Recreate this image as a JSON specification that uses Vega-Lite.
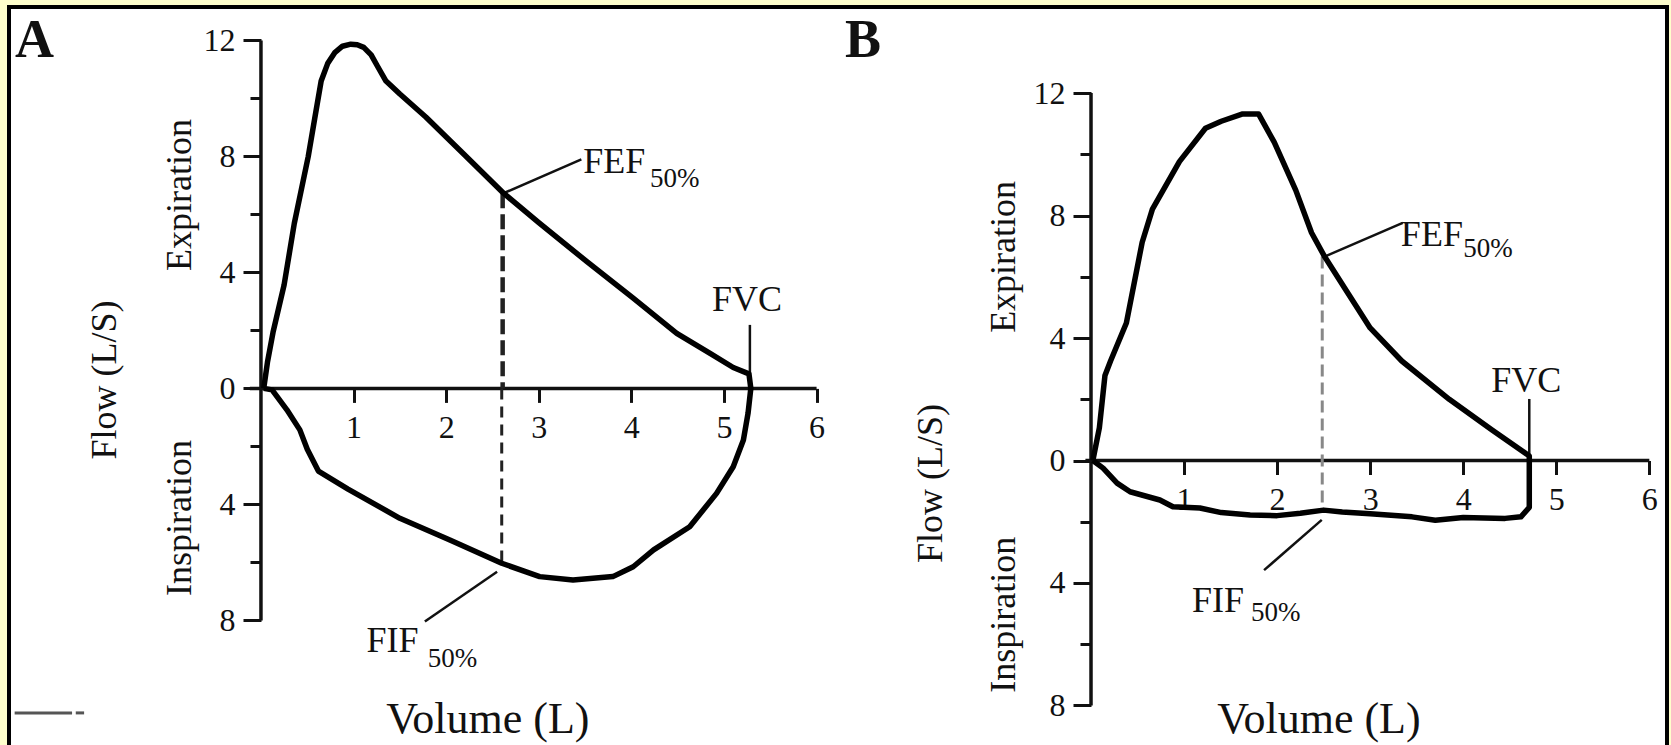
{
  "$schema": "https://vega.github.io/schema/vega-lite/v6.json",
  "width": 1671,
  "height": 745,
  "autosize": {"type": "fit", "contains": "padding"},
  "padding": {"left": 9, "top": 7, "right": 4, "bottom": -3},
  "background": "#FFFFCC",
  "config": {
    "view": {"stroke": "#000000", "strokeWidth": 4, "fill": "#ffffff"},
    "axis": {"labelFont": "Liberation Serif", "labelColor": "#111111", "tickColor": "#111111", "grid": false, "domain": false, "title": null}
  },
  "datasets": {
    "loopA": [
      {"volume": 0.03, "flow": 0}, {"volume": 0.07, "flow": 0.9}, {"volume": 0.13, "flow": 1.93}, {"volume": 0.25, "flow": 3.57},
      {"volume": 0.36, "flow": 5.69}, {"volume": 0.51, "flow": 7.99}, {"volume": 0.58, "flow": 9.3}, {"volume": 0.65, "flow": 10.6},
      {"volume": 0.72, "flow": 11.2}, {"volume": 0.8, "flow": 11.59}, {"volume": 0.88, "flow": 11.8}, {"volume": 0.97, "flow": 11.87},
      {"volume": 1.04, "flow": 11.85}, {"volume": 1.11, "flow": 11.76}, {"volume": 1.19, "flow": 11.5}, {"volume": 1.26, "flow": 11.1},
      {"volume": 1.35, "flow": 10.6}, {"volume": 1.5, "flow": 10.15}, {"volume": 1.78, "flow": 9.36}, {"volume": 2.2, "flow": 8.05},
      {"volume": 2.62, "flow": 6.73}, {"volume": 3.0, "flow": 5.72}, {"volume": 3.52, "flow": 4.37}, {"volume": 4.02, "flow": 3.11},
      {"volume": 4.49, "flow": 1.9}, {"volume": 4.85, "flow": 1.21}, {"volume": 5.1, "flow": 0.72}, {"volume": 5.27, "flow": 0.5},
      {"volume": 5.29, "flow": 0}, {"volume": 5.26, "flow": -0.86}, {"volume": 5.21, "flow": -1.78}, {"volume": 5.1, "flow": -2.7},
      {"volume": 4.92, "flow": -3.62}, {"volume": 4.63, "flow": -4.77}, {"volume": 4.24, "flow": -5.57}, {"volume": 4.02, "flow": -6.15},
      {"volume": 3.8, "flow": -6.49}, {"volume": 3.37, "flow": -6.61}, {"volume": 3.01, "flow": -6.49}, {"volume": 2.6, "flow": -6.03},
      {"volume": 2.04, "flow": -5.23}, {"volume": 1.5, "flow": -4.48}, {"volume": 0.94, "flow": -3.47}, {"volume": 0.62, "flow": -2.85},
      {"volume": 0.5, "flow": -2.1}, {"volume": 0.42, "flow": -1.43}, {"volume": 0.28, "flow": -0.74}, {"volume": 0.12, "flow": -0.05},
      {"volume": 0.03, "flow": 0}
    ],
    "loopB": [
      {"volume": 0.02, "flow": 0}, {"volume": 0.09, "flow": 1.07}, {"volume": 0.15, "flow": 2.78}, {"volume": 0.21, "flow": 3.25},
      {"volume": 0.38, "flow": 4.49}, {"volume": 0.55, "flow": 7.13}, {"volume": 0.66, "flow": 8.21}, {"volume": 0.95, "flow": 9.76},
      {"volume": 1.23, "flow": 10.85}, {"volume": 1.4, "flow": 11.08}, {"volume": 1.63, "flow": 11.32}, {"volume": 1.8, "flow": 11.32},
      {"volume": 1.97, "flow": 10.39}, {"volume": 2.2, "flow": 8.83}, {"volume": 2.37, "flow": 7.44}, {"volume": 2.51, "flow": 6.66},
      {"volume": 2.77, "flow": 5.42}, {"volume": 3.0, "flow": 4.33}, {"volume": 3.34, "flow": 3.25}, {"volume": 3.85, "flow": 2.0},
      {"volume": 4.31, "flow": 1.0}, {"volume": 4.71, "flow": 0.15}, {"volume": 4.71, "flow": 0}, {"volume": 4.71, "flow": -1.53},
      {"volume": 4.62, "flow": -1.84}, {"volume": 4.45, "flow": -1.89}, {"volume": 4.0, "flow": -1.86}, {"volume": 3.7, "flow": -1.95},
      {"volume": 3.45, "flow": -1.84}, {"volume": 3.0, "flow": -1.74}, {"volume": 2.7, "flow": -1.68}, {"volume": 2.5, "flow": -1.62},
      {"volume": 2.25, "flow": -1.72}, {"volume": 2.0, "flow": -1.8}, {"volume": 1.71, "flow": -1.78}, {"volume": 1.4, "flow": -1.7},
      {"volume": 1.17, "flow": -1.55}, {"volume": 0.88, "flow": -1.51}, {"volume": 0.74, "flow": -1.29}, {"volume": 0.42, "flow": -1.02},
      {"volume": 0.28, "flow": -0.74}, {"volume": 0.13, "flow": -0.25}, {"volume": 0.02, "flow": 0}
    ],
    "axesA": [
      {"volume": 0, "flow": -8, "volume2": 0, "flow2": 12},
      {"volume": -0.12, "flow": 0, "volume2": 6, "flow2": 0}
    ],
    "axesB": [
      {"volume": 0, "flow": -8, "volume2": 0, "flow2": 12},
      {"volume": -0.06, "flow": 0, "volume2": 6, "flow2": 0}
    ],
    "leadersA": [
      {"volume": 2.62, "flow": 6.73, "volume2": 3.46, "flow2": 7.9},
      {"volume": 2.55, "flow": -6.32, "volume2": 1.77, "flow2": -8.04},
      {"volume": 5.28, "flow": 0.5, "volume2": 5.28, "flow2": 2.19}
    ],
    "leadersB": [
      {"volume": 2.51, "flow": 6.66, "volume2": 3.35, "flow2": 7.76},
      {"volume": 2.48, "flow": -1.94, "volume2": 1.86, "flow2": -3.58},
      {"volume": 4.71, "flow": 0.15, "volume2": 4.71, "flow2": 2.01}
    ],
    "strayA": [
      {"volume": -2.66, "flow": -11.19, "volume2": -2.04, "flow2": -11.19},
      {"volume": -2.0, "flow": -11.19, "volume2": -1.91, "flow2": -11.19}
    ],
    "dashTopA": [{"volume": 2.61, "flow": 6.73, "flow2": 0}],
    "dashBottomA": [{"volume": 2.6, "flow": 0, "flow2": -6.03}],
    "dashB": [{"volume": 2.485, "flow": 6.66, "flow2": -1.6}],
    "textA": [
      {"kind": "panel", "label": "A", "volume": -2.657, "flow": 11.43},
      {"kind": "label", "label": "FEF", "volume": 3.48, "flow": 7.43},
      {"kind": "sub", "label": "50%", "volume": 4.2, "flow": 6.95},
      {"kind": "label", "label": "FIF", "volume": 1.14, "flow": -9.08},
      {"kind": "sub", "label": "50%", "volume": 1.8, "flow": -9.6},
      {"kind": "label", "label": "FVC", "volume": 4.87, "flow": 2.67},
      {"kind": "vtitle", "label": "Flow (L/S)", "volume": -1.685, "flow": 0.29},
      {"kind": "vtitle", "label": "Expiration", "volume": -0.875, "flow": 6.67},
      {"kind": "vtitle", "label": "Inspiration", "volume": -0.875, "flow": -4.47},
      {"kind": "htitle", "label": "Volume (L)", "volume": 2.45, "flow": -11.88}
    ],
    "textB": [
      {"kind": "panel", "label": "B", "volume": -2.643, "flow": 13.18},
      {"kind": "label", "label": "FEF", "volume": 3.33, "flow": 7.0},
      {"kind": "sub", "label": "50%", "volume": 4.0, "flow": 6.65},
      {"kind": "label", "label": "FIF", "volume": 1.085, "flow": -4.95},
      {"kind": "sub", "label": "50%", "volume": 1.72, "flow": -5.24},
      {"kind": "label", "label": "FVC", "volume": 4.3, "flow": 2.24},
      {"kind": "vtitle", "label": "Flow (L/S)", "volume": -1.72, "flow": -0.75},
      {"kind": "vtitle", "label": "Expiration", "volume": -0.94, "flow": 6.65},
      {"kind": "vtitle", "label": "Inspiration", "volume": -0.94, "flow": -5.04},
      {"kind": "htitle", "label": "Volume (L)", "volume": 2.45, "flow": -8.9}
    ]
  },
  "resolve": {"scale": {"x": "independent", "y": "independent"}, "axis": {"x": "independent", "y": "independent"}},
  "layer": [
    {
      "encoding": {
        "x": {"field": "volume", "type": "quantitative", "scale": {"domain": [-2.721, 15.184], "nice": false, "zero": false},
          "axis": {"orient": "bottom", "offset": -359.6, "values": [1, 2, 3, 4, 5, 6], "format": "d", "tickSize": 14, "tickWidth": 3, "labelFontSize": 32, "labelPadding": 10, "labelFlush": false, "labelOverlap": false}},
        "y": {"field": "flow", "type": "quantitative", "scale": {"domain": [-12.4, 13.152], "nice": false, "zero": false},
          "axis": {"orient": "left", "offset": -252, "values": [-8, -6, -4, -2, 0, 2, 4, 6, 8, 10, 12], "labelExpr": "datum.value % 4 === 0 ? '' + abs(datum.value) : ''", "tickSize": {"condition": {"test": "datum.value % 4 !== 0", "value": 11}, "value": 18}, "tickWidth": 3, "labelFontSize": 32, "labelPadding": 8, "labelOverlap": false}}
      },
      "layer": [
        {"data": {"name": "axesA"}, "mark": {"type": "rule", "color": "#111111", "strokeWidth": 3.5}, "encoding": {"x2": {"field": "volume2"}, "y2": {"field": "flow2"}}},
        {"data": {"name": "leadersA"}, "mark": {"type": "rule", "color": "#111111", "strokeWidth": 2.5}, "encoding": {"x2": {"field": "volume2"}, "y2": {"field": "flow2"}}},
        {"data": {"name": "strayA"}, "mark": {"type": "rule", "color": "#555555", "strokeWidth": 3}, "encoding": {"x2": {"field": "volume2"}, "y2": {"field": "flow2"}}},
        {"data": {"name": "dashTopA"}, "mark": {"type": "rule", "color": "#222222", "strokeWidth": 4.5, "strokeDash": [15, 6]}, "encoding": {"y2": {"field": "flow2"}}},
        {"data": {"name": "dashBottomA"}, "mark": {"type": "rule", "color": "#222222", "strokeWidth": 3, "strokeDash": [11, 7]}, "encoding": {"y2": {"field": "flow2"}}},
        {"data": {"name": "loopA"}, "mark": {"type": "line", "color": "#000000", "strokeWidth": 5.5, "strokeJoin": "round"}, "encoding": {"order": {"value": null}}},
        {"data": {"name": "textA"}, "transform": [{"filter": "datum.kind === 'panel'"}], "mark": {"type": "text", "font": "Liberation Serif", "fontSize": 54, "fontWeight": "bold", "align": "left", "baseline": "alphabetic", "color": "#111111"}, "encoding": {"text": {"field": "label"}}},
        {"data": {"name": "textA"}, "transform": [{"filter": "datum.kind === 'label'"}], "mark": {"type": "text", "font": "Liberation Serif", "fontSize": 36, "align": "left", "baseline": "alphabetic", "color": "#111111"}, "encoding": {"text": {"field": "label"}}},
        {"data": {"name": "textA"}, "transform": [{"filter": "datum.kind === 'sub'"}], "mark": {"type": "text", "font": "Liberation Serif", "fontSize": 27, "align": "left", "baseline": "alphabetic", "color": "#111111"}, "encoding": {"text": {"field": "label"}}},
        {"data": {"name": "textA"}, "transform": [{"filter": "datum.kind === 'vtitle'"}], "mark": {"type": "text", "font": "Liberation Serif", "fontSize": 36, "angle": 270, "align": "center", "baseline": "middle", "color": "#111111"}, "encoding": {"text": {"field": "label"}}},
        {"data": {"name": "textA"}, "transform": [{"filter": "datum.kind === 'htitle'"}], "mark": {"type": "text", "font": "Liberation Serif", "fontSize": 44, "align": "center", "baseline": "alphabetic", "color": "#111111"}, "encoding": {"text": {"field": "label"}}}
      ]
    },
    {
      "encoding": {
        "x": {"field": "volume", "type": "quantitative", "scale": {"domain": [-11.628, 6.19], "nice": false, "zero": false},
          "axis": {"orient": "bottom", "offset": -287.5, "values": [1, 2, 3, 4, 5, 6], "format": "d", "tickSize": 14, "tickWidth": 3, "labelFontSize": 32, "labelPadding": 10, "labelFlush": false, "labelOverlap": false}},
        "y": {"field": "flow", "type": "quantitative", "scale": {"domain": [-9.389, 14.811], "nice": false, "zero": false},
          "axis": {"orient": "left", "offset": -1082, "values": [-8, -6, -4, -2, 0, 2, 4, 6, 8, 10, 12], "labelExpr": "datum.value % 4 === 0 ? '' + abs(datum.value) : ''", "tickSize": {"condition": {"test": "datum.value % 4 !== 0", "value": 11}, "value": 18}, "tickWidth": 3, "labelFontSize": 32, "labelPadding": 8, "labelOverlap": false}}
      },
      "layer": [
        {"data": {"name": "axesB"}, "mark": {"type": "rule", "color": "#111111", "strokeWidth": 3.5}, "encoding": {"x2": {"field": "volume2"}, "y2": {"field": "flow2"}}},
        {"data": {"name": "leadersB"}, "mark": {"type": "rule", "color": "#111111", "strokeWidth": 2.5}, "encoding": {"x2": {"field": "volume2"}, "y2": {"field": "flow2"}}},
        {"data": {"name": "dashB"}, "mark": {"type": "rule", "color": "#888888", "strokeWidth": 3, "strokeDash": [12, 6]}, "encoding": {"y2": {"field": "flow2"}}},
        {"data": {"name": "loopB"}, "mark": {"type": "line", "color": "#000000", "strokeWidth": 5.5, "strokeJoin": "round"}, "encoding": {"order": {"value": null}}},
        {"data": {"name": "textB"}, "transform": [{"filter": "datum.kind === 'panel'"}], "mark": {"type": "text", "font": "Liberation Serif", "fontSize": 54, "fontWeight": "bold", "align": "left", "baseline": "alphabetic", "color": "#111111"}, "encoding": {"text": {"field": "label"}}},
        {"data": {"name": "textB"}, "transform": [{"filter": "datum.kind === 'label'"}], "mark": {"type": "text", "font": "Liberation Serif", "fontSize": 36, "align": "left", "baseline": "alphabetic", "color": "#111111"}, "encoding": {"text": {"field": "label"}}},
        {"data": {"name": "textB"}, "transform": [{"filter": "datum.kind === 'sub'"}], "mark": {"type": "text", "font": "Liberation Serif", "fontSize": 27, "align": "left", "baseline": "alphabetic", "color": "#111111"}, "encoding": {"text": {"field": "label"}}},
        {"data": {"name": "textB"}, "transform": [{"filter": "datum.kind === 'vtitle'"}], "mark": {"type": "text", "font": "Liberation Serif", "fontSize": 36, "angle": 270, "align": "center", "baseline": "middle", "color": "#111111"}, "encoding": {"text": {"field": "label"}}},
        {"data": {"name": "textB"}, "transform": [{"filter": "datum.kind === 'htitle'"}], "mark": {"type": "text", "font": "Liberation Serif", "fontSize": 44, "align": "center", "baseline": "alphabetic", "color": "#111111"}, "encoding": {"text": {"field": "label"}}}
      ]
    }
  ]
}
